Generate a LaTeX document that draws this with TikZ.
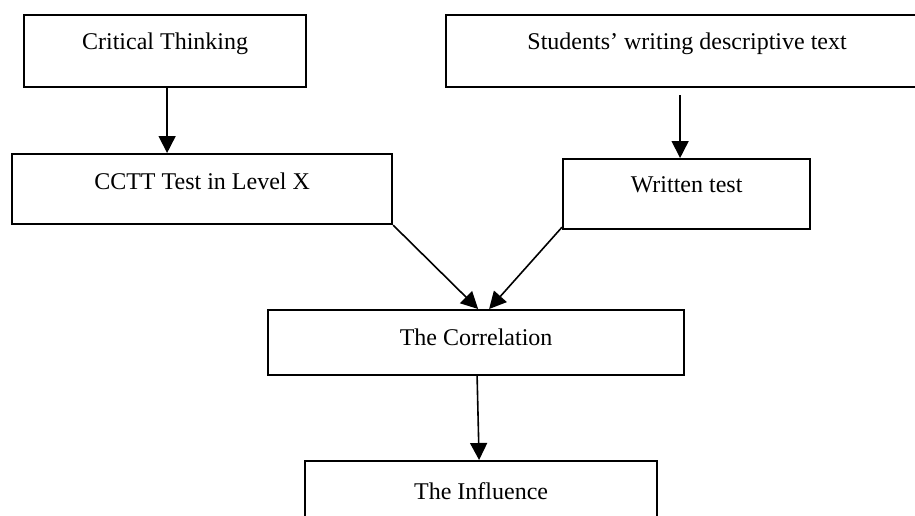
\documentclass[tikz,border=0pt]{standalone}
\usepackage{fontspec}
\setmainfont{Liberation Serif}
\usetikzlibrary{arrows.meta}
\begin{document}
\begin{tikzpicture}[x=0.5pt,y=-0.5pt,
 box/.style={draw, line width=1.1pt, inner xsep=0pt, inner ysep=0pt, anchor=north west, font=\fontsize{12}{14}\selectfont},
 arr/.style={line width=0.8pt, -{Triangle[length=8.5pt,width=8.5pt]}}]
\useasboundingbox (0,0) rectangle (915,515);
\node[box, minimum width=141pt, text height=17pt, text depth=19pt] (ct) at (23,14) {Critical Thinking};
\node[box, minimum width=241pt, text height=17pt, text depth=19pt] (sw) at (445,14) {Students’ writing descriptive text};
\node[box, minimum width=190pt, text height=17.5pt, text depth=17.5pt] (cc) at (11,153) {CCTT Test in Level X};
\node[box, minimum width=123.5pt, text height=16.5pt, text depth=18.5pt] (wt) at (562,158) {Written test};
\node[box, minimum width=208pt, text height=17.5pt, text depth=15pt] (co) at (267,309) {The Correlation};
\node[box, minimum width=176pt, text height=19pt, text depth=50pt] (in) at (304,460) {The Influence};
\draw[arr] ([xshift=1pt]ct.south) -- ([xshift=1pt]ct.south |- cc.north);
\draw[arr] ([xshift=-3.5pt,yshift=-3.5pt]sw.south) -- ([xshift=-3.5pt]sw.south |- wt.north);
\draw[arr] (cc.south east) -- ([xshift=1pt]co.north);
\draw[arr] ([yshift=1.5pt]wt.south west) -- ([xshift=6.5pt]co.north);
\draw[arr] ([xshift=0.5pt]co.south) -- ([xshift=-1pt]in.north);
\end{tikzpicture}
\end{document}
